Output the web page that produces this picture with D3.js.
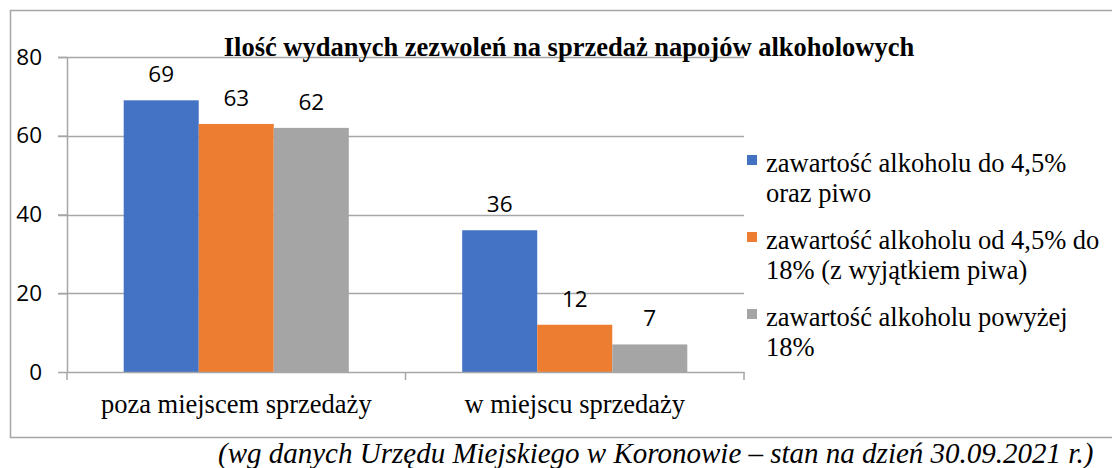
<!DOCTYPE html>
<html>
<head>
<meta charset="utf-8">
<script src="https://cdn.jsdelivr.net/npm/d3@7"></script>
<style>
  body { margin: 0; background: #fff; }
  svg { display: block; }
</style>
</head>
<body>
<svg width="1112" height="468"></svg>
<script>
const svg = d3.select("svg");

const titleText = "Ilość wydanych zezwoleń na sprzedaż napojów alkoholowych";
const captionText = "(wg danych Urzędu Miejskiego w Koronowie – stan na dzień 30.09.2021 r.)";

const categories = ["poza miejscem sprzedaży", "w miejscu sprzedaży"];
const seriesNames = [
  ["zawartość alkoholu do 4,5%", "oraz piwo"],
  ["zawartość alkoholu od 4,5% do", "18% (z wyjątkiem piwa)"],
  ["zawartość alkoholu powyżej", "18%"]
];
const upTo45 = [69, 36];
const from45To18 = [63, 12];
const above18 = [62, 7];
const yTicks = [0, 20, 40, 60, 80];
const colors = ["#4472c4", "#ed7d31", "#a5a5a5"];

const series = [upTo45, from45To18, above18];

const serif = "'Liberation Serif', 'Times New Roman', serif";
const sans = "'Open Sans', 'Liberation Sans', sans-serif";

// chart frame
svg.append("rect")
  .attr("x", 10.5).attr("y", 10.5)
  .attr("width", 1120).attr("height", 427)
  .attr("fill", "none")
  .attr("stroke", "#a6a6a6")
  .attr("stroke-width", 1.5);

const plotLeft = 67, plotRight = 744, plotTop = 57, plotBottom = 372;

const x0 = d3.scaleBand()
  .domain(categories)
  .range([plotLeft, plotRight])
  .paddingInner(0.335)
  .paddingOuter(0.1675);

const x1 = d3.scaleBand()
  .domain(d3.range(series.length))
  .range([0, x0.bandwidth()]);

const y = d3.scaleLinear()
  .domain([0, 80])
  .range([plotBottom, plotTop]);

// gridlines
svg.append("g")
  .selectAll("line")
  .data(yTicks.filter(d => d > 0))
  .enter().append("line")
    .attr("x1", plotLeft - 9)
    .attr("x2", plotRight)
    .attr("y1", d => Math.round(y(d)) + 0.5)
    .attr("y2", d => Math.round(y(d)) + 0.5)
    .attr("stroke", "#a6a6a6")
    .attr("stroke-width", 1.5);

// title (sits right on the top gridline)
svg.append("text")
  .attr("x", 569)
  .attr("y", 56)
  .attr("text-anchor", "middle")
  .style("font-family", serif)
  .style("font-weight", "bold")
  .style("font-size", "26.5px")
  .text(titleText);

// bars
const groups = svg.append("g")
  .selectAll("g")
  .data(series)
  .enter().append("g")
    .attr("fill", (d, i) => colors[i]);

groups.each(function (vals, si) {
  const g = d3.select(this);
  g.selectAll("rect")
    .data(vals)
    .enter().append("rect")
      .attr("x", (d, ci) => x0(categories[ci]) + x1(si))
      .attr("y", d => y(d))
      .attr("width", x1.bandwidth())
      .attr("height", d => y(0) - y(d));

  g.selectAll("text")
    .data(vals)
    .enter().append("text")
      .attr("x", (d, ci) => x0(categories[ci]) + x1(si) + x1.bandwidth() / 2)
      .attr("y", d => y(d) - 18)
      .attr("text-anchor", "middle")
      .attr("fill", "#000")
      .style("font-family", sans)
      .style("font-size", "22.5px")
      .text(d => d);
});

// y axis
const yAxis = svg.append("g")
  .attr("transform", `translate(${plotLeft},0)`)
  .call(d3.axisLeft(y).tickValues(yTicks).tickSize(9).tickSizeOuter(0).tickPadding(16));
yAxis.select(".domain").attr("stroke", "#a6a6a6").attr("stroke-width", 1.5);
yAxis.selectAll(".tick line").attr("stroke", "#a6a6a6").attr("stroke-width", 1.5);
yAxis.selectAll(".tick text")
  .style("font-family", sans)
  .style("font-size", "22.5px")
  .attr("fill", "#000");

// x axis
const xAxis = svg.append("g")
  .attr("transform", `translate(0,${plotBottom})`)
  .call(d3.axisBottom(x0).tickSize(0).tickPadding(22));
xAxis.select(".domain").attr("stroke", "#a6a6a6").attr("stroke-width", 1.5);
xAxis.selectAll(".tick text")
  .style("font-family", serif)
  .style("font-size", "26.5px")
  .attr("fill", "#000");

// category separators
svg.append("g")
  .selectAll("line")
  .data([plotLeft, (plotLeft + plotRight) / 2, plotRight])
  .enter().append("line")
    .attr("x1", d => d).attr("x2", d => d)
    .attr("y1", plotBottom).attr("y2", plotBottom + 8)
    .attr("stroke", "#a6a6a6")
    .attr("stroke-width", 1.5);

// legend
const legend = svg.append("g")
  .selectAll("g")
  .data(seriesNames)
  .enter().append("g")
    .attr("transform", (d, i) => `translate(747,${155 + i * 77})`);

legend.append("rect")
  .attr("width", 10).attr("height", 10)
  .attr("fill", (d, i) => colors[i]);

legend.append("text")
  .style("font-family", serif)
  .style("font-size", "26.5px")
  .attr("fill", "#000")
  .selectAll("tspan")
  .data(d => d)
  .enter().append("tspan")
    .attr("x", 19)
    .attr("y", (d, i) => 17 + i * 30)
    .text(d => d);

// source caption
svg.append("text")
  .attr("x", 218)
  .attr("y", 463)
  .style("font-family", serif)
  .style("font-style", "italic")
  .style("font-size", "29px")
  .attr("fill", "#000")
  .text(captionText);
</script>
</body>
</html>
